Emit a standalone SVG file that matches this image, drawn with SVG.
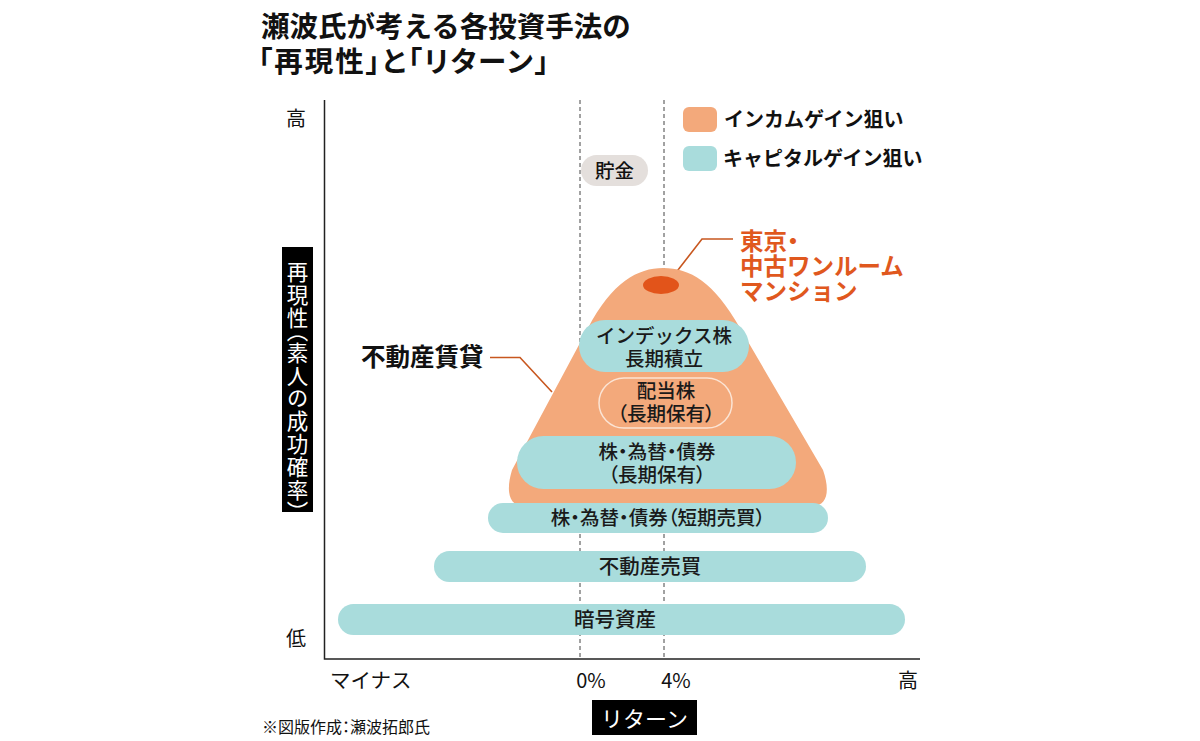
<svg xmlns="http://www.w3.org/2000/svg" width="1200" height="741" viewBox="0 0 1200 741">
<style>
text{font-family:"Noto Sans CJK JP","Noto Sans",sans-serif;}
.p{font-feature-settings:"palt";}
.title{font-size:28.5px;font-weight:700;fill:#111;}
.leg{font-size:20px;font-weight:700;fill:#111;}
.lbl{font-size:19.5px;font-weight:500;fill:#1a1a1a;text-anchor:middle;}
.ax{font-size:20px;font-weight:400;fill:#111;}
.orange{fill:#f3a97b;}
.teal{fill:#a9dcdc;}
.lead{fill:none;stroke:#c8571f;stroke-width:1.6;}
.dash{stroke:#444;stroke-width:1;stroke-dasharray:4 3;}
.hl{font-size:23.5px;font-weight:700;fill:#e0581e;}
</style>
<rect width="1200" height="741" fill="#fff"/>
<g id="title">
<text class="title" x="261" y="37">瀬波氏が考える各投資手法の</text>
<text class="title p" x="258" y="72" letter-spacing="2">「再現性」と「リターン」</text>
</g>
<g id="axes">
<line class="dash" x1="580" y1="100" x2="580" y2="658"/>
<line class="dash" x1="664" y1="100" x2="664" y2="658"/>
<polyline points="324.5,100 324.5,659 920,659" fill="none" stroke="#222" stroke-width="1.5"/>
<text class="ax" x="296" y="126" text-anchor="middle">高</text>
<text class="ax" x="296" y="646" text-anchor="middle">低</text>
<rect x="282" y="247" width="31" height="265" fill="#000"/>
<text x="297.5" y="261" style="writing-mode:vertical-rl;font-size:21.5px;fill:#fff;font-feature-settings:'vpal';letter-spacing:1.5px">再現性（素人の成功確率）</text>
<text class="ax" x="330" y="688" style="font-size:20.5px">マイナス</text>
<text class="ax" x="591" y="688" text-anchor="middle">0%</text>
<text class="ax" x="676" y="688" text-anchor="middle">4%</text>
<text class="ax" x="908" y="688" text-anchor="middle">高</text>
<rect x="592" y="700" width="105" height="35" fill="#000"/>
<text x="644.5" y="727" text-anchor="middle" style="font-size:22px;fill:#fff">リターン</text>
<text x="262" y="733" style="font-size:16px;fill:#111">※図版作成<tspan class="p">：</tspan>瀬波拓郎氏</text>
</g>
<g id="legend">
<rect class="orange" x="683" y="107" width="34" height="25" rx="6"/>
<text class="leg" x="724" y="127">インカムゲイン狙い</text>
<rect class="teal" x="683" y="146" width="34" height="25" rx="6"/>
<text class="leg" x="723" y="166">キャピタルゲイン狙い</text>
</g>
<g id="chokin">
<rect x="581" y="155" width="67" height="31" rx="15.5" fill="#e4dfdc"/>
<text x="614.5" y="178" text-anchor="middle" style="font-size:19.5px;font-weight:500;fill:#111">貯金</text>
</g>
<g id="connectors">
<polyline class="lead" points="671,279 702,239 733,239"/>
<polyline class="lead" points="490,357.5 520,357.5 552,392"/>
</g>
<g id="mountain">
<path class="orange" d="M524,506 C508,506 506,490 512,470 L588,328 C612,282 638,268 663,268 C690,268 714,282 740,328 L823,470 C830,490 828,506 812,506 Z"/>
<ellipse cx="661" cy="285" rx="18" ry="9" fill="#e2541a"/>
</g>
<g id="tokyo">
<text class="hl" x="740" y="250">東京<tspan class="p">・</tspan></text>
<text class="hl" x="740" y="275">中古ワンルーム</text>
<text class="hl" x="740" y="300">マンション</text>
</g>
<g id="fudosan-chintai">
<text x="361" y="366" style="font-size:24.5px;font-weight:700;fill:#111">不動産賃貸</text>
</g>
<g id="index">
<rect class="teal" x="579" y="320" width="170" height="52" rx="26"/>
<text class="lbl" x="664" y="343">インデックス株</text>
<text class="lbl" x="664" y="366">長期積立</text>
</g>
<g id="haito">
<rect x="599" y="378" width="133" height="50" rx="25" fill="#f3a97b" stroke="#fbe4d4" stroke-width="1.5"/>
<text class="lbl" x="666" y="398">配当株</text>
<text class="lbl" x="666" y="421"><tspan class="p">（</tspan>長期保有<tspan class="p">）</tspan></text>
</g>
<g id="kabu-long">
<rect class="teal" x="517" y="436" width="279" height="53" rx="26.5"/>
<text class="lbl" x="657" y="459">株<tspan class="p">・</tspan>為替<tspan class="p">・</tspan>債券</text>
<text class="lbl" x="657" y="482"><tspan class="p">（</tspan>長期保有<tspan class="p">）</tspan></text>
</g>
<g id="kabu-short">
<rect class="teal" x="488" y="503" width="340" height="30" rx="15"/>
<text class="lbl" x="658" y="525">株<tspan class="p">・</tspan>為替<tspan class="p">・</tspan>債券<tspan class="p">（</tspan>短期売買<tspan class="p">）</tspan></text>
</g>
<g id="fudosan-baibai">
<rect class="teal" x="434" y="551" width="432" height="31" rx="15.5"/>
<text class="lbl" x="650" y="574" style="font-size:20.5px">不動産売買</text>
</g>
<g id="angou">
<rect class="teal" x="338" y="604" width="567" height="31" rx="15.5"/>
<text class="lbl" x="615" y="627" style="font-size:20.5px">暗号資産</text>
</g>
</svg>
